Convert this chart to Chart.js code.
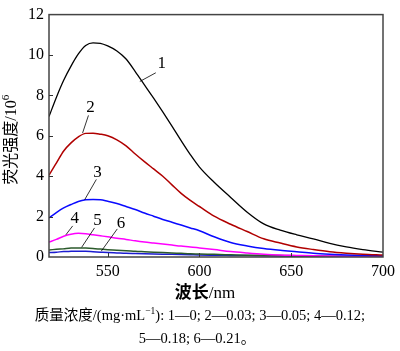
<!DOCTYPE html>
<html>
<head>
<meta charset="utf-8">
<script src="https://cdn.jsdelivr.net/npm/chart.js@4"></script>
<style>
    html, body { margin: 0; padding: 0; background: #fff; }
    #wrap { position: relative; width: 400px; height: 351px; }
    #chart { position: absolute; left: 0; top: 0; }
    .caption {
        position: absolute; left: 0; width: 400px; text-align: center;
        font-family: "Liberation Serif", "Noto Sans CJK SC", serif; font-size: 14.5px; color: #000;
        white-space: nowrap; line-height: 1;
    }
    .caption sup { font-size: 9.5px; vertical-align: 6px; line-height: 0; }
</style>
</head>
<body>
<div id="wrap">
    <canvas id="chart" width="400" height="351"></canvas>
    <div class="caption" style="top:308px">质量浓度/(mg·mL<sup>−1</sup>): 1—0; 2—0.03; 3—0.05; 4—0.12;</div>
    <div class="caption" style="top:331px; left:-3px">5—0.18; 6—0.21。</div>
</div>
<script>
// wavelengths (nm)
const wavelengths = [518, 522, 526, 530, 534, 538, 542, 546, 550, 555, 560, 565, 570, 575, 580, 585, 590, 595, 600, 608, 617, 626, 635, 644, 653, 662, 671, 680, 689, 700];

// fluorescence intensity / 10^6
const curve1 = [6.95, 7.9, 8.75, 9.45, 10.05, 10.47, 10.6, 10.58, 10.45, 10.2, 9.8, 9.18, 8.52, 7.86, 7.18, 6.48, 5.76, 5.07, 4.45, 3.7, 2.95, 2.22, 1.64, 1.33, 1.1, 0.9, 0.67, 0.5, 0.37, 0.24];
const curve2 = [4.05, 4.65, 5.25, 5.65, 5.95, 6.12, 6.13, 6.08, 6.0, 5.8, 5.5, 5.1, 4.72, 4.36, 4.0, 3.57, 3.15, 2.8, 2.5, 2.02, 1.62, 1.26, 0.9, 0.69, 0.5, 0.37, 0.26, 0.19, 0.14, 0.1];
const curve3 = [1.94, 2.2, 2.43, 2.6, 2.75, 2.83, 2.85, 2.84, 2.76, 2.65, 2.5, 2.35, 2.18, 2.02, 1.86, 1.72, 1.58, 1.44, 1.3, 1.0, 0.72, 0.55, 0.42, 0.33, 0.26, 0.19, 0.14, 0.1, 0.07, 0.05];
const curve4 = [0.74, 0.87, 1.03, 1.13, 1.17, 1.15, 1.1, 1.05, 1.0, 0.93, 0.87, 0.8, 0.74, 0.69, 0.64, 0.59, 0.54, 0.5, 0.45, 0.37, 0.27, 0.2, 0.14, 0.1, 0.08, 0.06, 0.05, 0.04, 0.03, 0.03];
const curve5 = [0.35, 0.38, 0.41, 0.44, 0.45, 0.44, 0.42, 0.39, 0.36, 0.33, 0.31, 0.28, 0.26, 0.24, 0.22, 0.2, 0.18, 0.16, 0.15, 0.13, 0.11, 0.09, 0.08, 0.07, 0.06, 0.05, 0.04, 0.03, 0.03, 0.02];
const curve6 = [0.22, 0.24, 0.27, 0.28, 0.29, 0.28, 0.26, 0.24, 0.22, 0.2, 0.18, 0.17, 0.16, 0.15, 0.14, 0.13, 0.12, 0.11, 0.1, 0.09, 0.08, 0.07, 0.06, 0.05, 0.04, 0.04, 0.03, 0.03, 0.02, 0.02];

const curveNames = ['1', '2', '3', '4', '5', '6'];
const xTicks = [550, 600, 650, 700];
const yTicks = [0, 2, 4, 6, 8, 10, 12];

document.addEventListener('DOMContentLoaded', () => {
    'use strict';

    const SERIF = '"Liberation Serif", "Noto Sans CJK SC", serif';
    const colors = ['#000000', '#b00000', '#0a0aff', '#ff00ff', '#2b5a2b', '#1c1cd0'];
    const series = [curve1, curve2, curve3, curve4, curve5, curve6];

    // curve number labels with leader lines, in data units [text x, text y, from x, from y, to x, to y]
    const labelSpots = [
        [579.4, 9.6, 576.2, 9.12, 567.5, 8.69],
        [540.6, 7.39, 539.5, 7.01, 536.3, 6.14],
        [544.4, 4.18, 543.8, 3.84, 537.4, 2.83],
        [532.0, 1.92, 530.9, 1.54, 527.2, 1.10],
        [544.4, 1.82, 542.8, 1.44, 535.8, 0.48],
        [557.3, 1.68, 555.2, 1.39, 546.5, 0.29]
    ];

    const frameAndLabels = {
        id: 'frameAndLabels',
        afterDatasetsDraw(chart) {
            const { ctx, chartArea: a, scales: { x, y } } = chart;
            ctx.save();

            // frame
            ctx.strokeStyle = '#444';
            ctx.lineWidth = 1.5;
            ctx.strokeRect(a.left, a.top, a.right - a.left, a.bottom - a.top);

            // inward ticks
            ctx.lineWidth = 1;
            ctx.strokeStyle = '#333';
            ctx.beginPath();
            xTicks.slice(0, -1).forEach(v => {
                const px = Math.round(x.getPixelForValue(v)) + 0.5;
                ctx.moveTo(px, a.bottom); ctx.lineTo(px, a.bottom - 4);
            });
            yTicks.slice(1, -1).forEach(v => {
                const py = Math.round(y.getPixelForValue(v)) + 0.5;
                ctx.moveTo(a.left, py); ctx.lineTo(a.left + 4, py);
            });
            ctx.stroke();

            // curve labels
            ctx.fillStyle = '#000';
            ctx.strokeStyle = '#000';
            ctx.lineWidth = 0.8;
            ctx.font = '17px ' + SERIF;
            ctx.textAlign = 'center';
            ctx.textBaseline = 'middle';
            labelSpots.forEach((s, i) => {
                ctx.fillText(curveNames[i], x.getPixelForValue(s[0]), y.getPixelForValue(s[1]));
                ctx.beginPath();
                ctx.moveTo(x.getPixelForValue(s[2]), y.getPixelForValue(s[3]));
                ctx.lineTo(x.getPixelForValue(s[4]), y.getPixelForValue(s[5]));
                ctx.stroke();
            });

            // x title: bold Chinese, regular unit
            ctx.textAlign = 'left';
            ctx.font = 'bold 17px ' + SERIF;
            const cn = '波长';
            const cw = ctx.measureText(cn).width;
            ctx.font = '17px ' + SERIF;
            const unit = '/nm';
            const uw = ctx.measureText(unit).width;
            const x0 = (a.left + a.right) / 2 - 11 - (cw + uw) / 2;
            ctx.font = 'bold 17px ' + SERIF;
            ctx.fillText(cn, x0, 294);
            ctx.font = '17px ' + SERIF;
            ctx.fillText(unit, x0 + cw, 294);

            // y title with superscript
            ctx.translate(12, (a.top + a.bottom) / 2 + 4);
            ctx.rotate(-Math.PI / 2);
            ctx.font = '16px ' + SERIF;
            const main = '荧光强度/10';
            const mw = ctx.measureText(main).width;
            ctx.font = '11px ' + SERIF;
            const sw = ctx.measureText('6').width;
            ctx.font = '16px ' + SERIF;
            ctx.fillText(main, -(mw + sw) / 2, 0);
            ctx.font = '11px ' + SERIF;
            ctx.fillText('6', -(mw + sw) / 2 + mw, -6);
            ctx.restore();
        }
    };

    function buildDatasets() {
        return series.map((vals, i) => ({
            label: curveNames[i],
            data: wavelengths.map((w, j) => ({ x: w, y: vals[j] })),
            borderColor: colors[i],
            borderWidth: i === 0 ? 1.3 : 1.5,
            pointRadius: 0,
            fill: false,
            cubicInterpolationMode: 'monotone'
        }));
    }

    function initialize() {
        const ctx = document.getElementById('chart').getContext('2d');
        new Chart(ctx, {
            type: 'line',
            data: { datasets: buildDatasets() },
            options: {
                responsive: false,
                animation: false,
                layout: { padding: { top: 7, right: 13, left: 0, bottom: 0 } },
                plugins: { legend: { display: false }, tooltip: { enabled: false } },
                scales: {
                    x: {
                        type: 'linear',
                        min: 518,
                        max: 700,
                        afterFit: s => { s.height = 94; },
                        afterBuildTicks: s => { s.ticks = xTicks.map(v => ({ value: v })); },
                        grid: { display: false, drawTicks: false },
                        border: { display: false },
                        ticks: { color: '#000', padding: 5, font: { family: SERIF, size: 16 }, maxRotation: 0 }
                    },
                    y: {
                        min: 0,
                        max: 12,
                        afterFit: s => { s.width = 49; },
                        afterBuildTicks: s => { s.ticks = yTicks.map(v => ({ value: v })); },
                        grid: { display: false, drawTicks: false },
                        border: { display: false },
                        ticks: { color: '#000', padding: 5, font: { family: SERIF, size: 16 } }
                    }
                }
            },
            plugins: [frameAndLabels]
        });
    }

    initialize();
});
</script>
</body>
</html>
